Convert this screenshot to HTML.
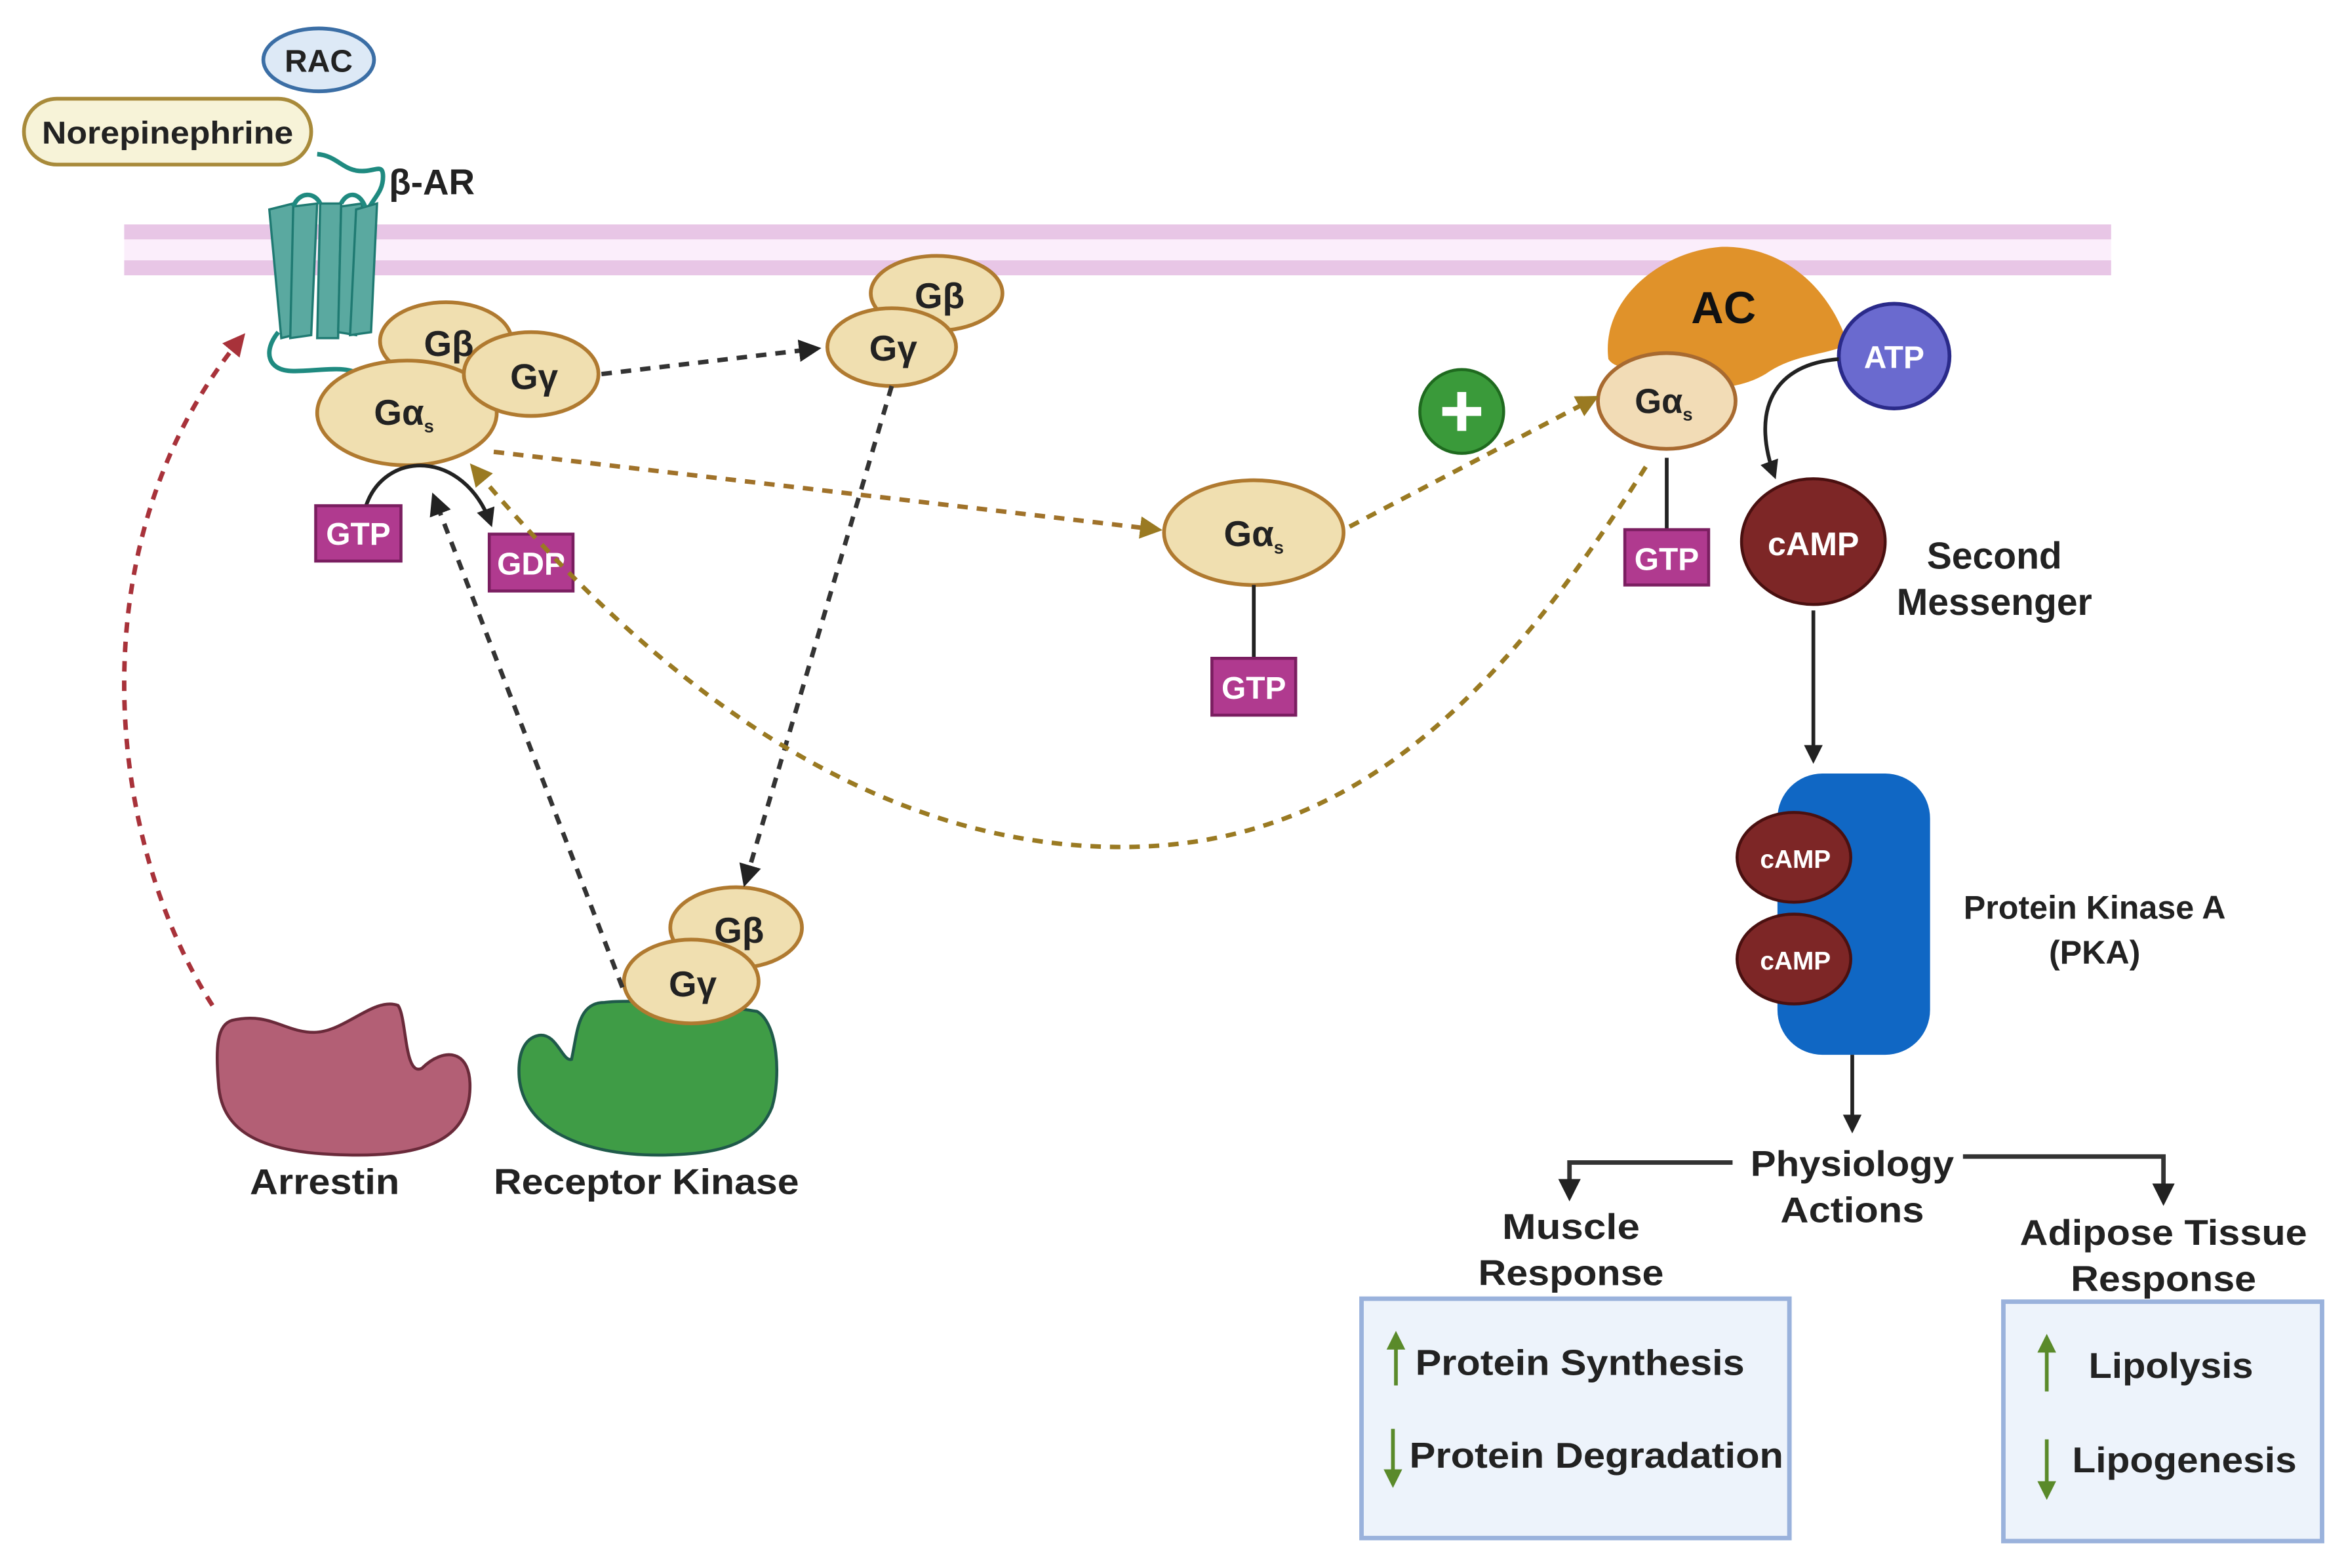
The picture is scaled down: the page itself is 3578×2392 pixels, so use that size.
<!DOCTYPE html>
<html><head><meta charset="utf-8"><style>html,body{margin:0;padding:0;background:#fff}svg{display:block}text{font-family:"Liberation Sans",sans-serif;font-weight:bold}</style></head>
<body>
<svg width="3578" height="2392" viewBox="0 0 1568 1048" preserveAspectRatio="none" xmlns="http://www.w3.org/2000/svg">
<defs>
<marker id="ab" viewBox="0 0 10 10" refX="8" refY="5" markerWidth="5" markerHeight="5" orient="auto"><path d="M0,0L10,5L0,10z" fill="#222"/></marker>
<marker id="ag" viewBox="0 0 10 10" refX="8" refY="5" markerWidth="5" markerHeight="5" orient="auto"><path d="M0,0L10,5L0,10z" fill="#9a7a22"/></marker>
<marker id="ar" viewBox="0 0 10 10" refX="8" refY="5" markerWidth="5" markerHeight="5" orient="auto"><path d="M0,0L10,5L0,10z" fill="#a8323a"/></marker>
<marker id="an" viewBox="0 0 10 10" refX="8" refY="5" markerWidth="5" markerHeight="5" orient="auto"><path d="M0,0L10,5L0,10z" fill="#5a8a2a"/></marker>
</defs>
<rect width="1568" height="1048" fill="#fff"/>
<rect x="83" y="150" width="1328" height="34" fill="#fbeefb"/>
<rect x="83" y="150" width="1328" height="10" fill="#e8c6e6"/>
<rect x="83" y="174" width="1328" height="10" fill="#e8c6e6"/>
<ellipse cx="213" cy="40" rx="37" ry="21" fill="#dde9f6" stroke="#3b6ea5" stroke-width="2.5"/>
<text x="213" y="48" font-size="21" text-anchor="middle" fill="#222">RAC</text>
<rect x="16" y="66" width="192" height="44" rx="22" fill="#f7f3d8" stroke="#a88a3a" stroke-width="2.5"/>
<text x="112" y="96" font-size="21" text-anchor="middle" fill="#222" textLength="168" lengthAdjust="spacingAndGlyphs">Norepinephrine</text>
<text x="260" y="130" font-size="24" fill="#222">β-AR</text>
<path d="M212,103 C224,104 228,112 238,114 C250,116 256,108 256,118 C256,128 250,132 246,140" fill="none" stroke="#1f8a80" stroke-width="3"/>
<path d="M186,222 C176,234 178,248 196,248 C214,248 230,244 240,250" fill="none" stroke="#1f8a80" stroke-width="3"/>
<g fill="#5aa9a0" stroke="#1f7a72" stroke-width="1.5">
<path d="M180,140 L196,136 L204,222 L188,226 Z"/>
<path d="M196,138 L212,136 L208,224 L194,226 Z"/>
<path d="M214,136 L228,136 L226,226 L212,226 Z"/>
<path d="M228,138 L242,136 L238,224 L226,222 Z"/>
<path d="M238,140 L252,136 L248,222 L234,224 Z"/>
</g>
<path d="M196,138 C200,128 210,128 214,136 M228,136 C232,128 240,128 244,138" fill="none" stroke="#1f8a80" stroke-width="3"/>
<g fill="#f0dfb0" stroke="#b07a30" stroke-width="2.5">
<ellipse cx="298" cy="228" rx="44" ry="26"/>
<ellipse cx="272" cy="276" rx="60" ry="35"/>
<ellipse cx="355" cy="250" rx="45" ry="28"/>
</g>
<text x="300" y="238" font-size="24" text-anchor="middle" fill="#222">Gβ</text>
<text x="357" y="260" font-size="24" text-anchor="middle" fill="#222">Gγ</text>
<text x="270" y="284" font-size="24" text-anchor="middle" fill="#222">Gα<tspan font-size="12" dy="5">s</tspan></text>
<path d="M244,340 C256,300 310,300 328,350" fill="none" stroke="#222" stroke-width="2.5" marker-end="url(#ab)"/>
<rect x="211" y="338" width="57" height="37" fill="#b03a8f" stroke="#7a1e60" stroke-width="2"/>
<text x="239.5" y="364" font-size="21" text-anchor="middle" fill="#fff">GTP</text>
<rect x="327" y="357" width="56" height="38" fill="#b03a8f" stroke="#7a1e60" stroke-width="2"/>
<text x="355" y="384" font-size="21" text-anchor="middle" fill="#fff">GDP</text>
<g fill="#f0dfb0" stroke="#b07a30" stroke-width="2.5">
<ellipse cx="626" cy="196" rx="44" ry="25"/>
<ellipse cx="596" cy="232" rx="43" ry="26"/>
</g>
<text x="628" y="206" font-size="24" text-anchor="middle" fill="#222">Gβ</text>
<text x="597" y="241" font-size="24" text-anchor="middle" fill="#222">Gγ</text>
<ellipse cx="838" cy="356" rx="60" ry="35" fill="#f0dfb0" stroke="#b07a30" stroke-width="2.5"/>
<text x="838" y="365" font-size="24" text-anchor="middle" fill="#222">Gα<tspan font-size="12" dy="5">s</tspan></text>
<line x1="838" y1="391" x2="838" y2="440" stroke="#222" stroke-width="2.5"/>
<rect x="810" y="440" width="56" height="38" fill="#b03a8f" stroke="#7a1e60" stroke-width="2"/>
<text x="838" y="467" font-size="21" text-anchor="middle" fill="#fff">GTP</text>
<circle cx="977" cy="275" r="28" fill="#3a9a3a" stroke="#1f6a1f" stroke-width="2"/>
<path d="M964,275 H990 M977,262 V288" stroke="#fff" stroke-width="6"/>
<path d="M1075,240 C1070,200 1110,168 1150,165 C1190,164 1222,190 1235,230 C1220,238 1200,236 1180,250 C1160,262 1130,262 1110,252 C1095,245 1080,248 1075,240 Z" fill="#e0922a"/>
<text x="1152" y="216" font-size="30" text-anchor="middle" fill="#111">AC</text>
<ellipse cx="1114" cy="268" rx="46" ry="32" fill="#f2dcb6" stroke="#a86a30" stroke-width="2.5"/>
<text x="1112" y="276" font-size="23" text-anchor="middle" fill="#222">Gα<tspan font-size="12" dy="5">s</tspan></text>
<line x1="1114" y1="306" x2="1114" y2="354" stroke="#222" stroke-width="2.5"/>
<rect x="1086" y="354" width="56" height="37" fill="#b03a8f" stroke="#7a1e60" stroke-width="2"/>
<text x="1114" y="381" font-size="21" text-anchor="middle" fill="#fff">GTP</text>
<ellipse cx="1266" cy="238" rx="37" ry="35" fill="#6a6acf" stroke="#2a2a8a" stroke-width="2.5"/>
<text x="1266" y="246" font-size="21" text-anchor="middle" fill="#fff">ATP</text>
<path d="M1229,240 C1180,244 1172,280 1186,318" fill="none" stroke="#222" stroke-width="2.5" marker-end="url(#ab)"/>
<ellipse cx="1212" cy="362" rx="48" ry="42" fill="#7d2626" stroke="#4a1010" stroke-width="2"/>
<text x="1212" y="371" font-size="22" text-anchor="middle" fill="#fff">cAMP</text>
<text x="1333" y="380" font-size="25" text-anchor="middle" fill="#222">Second</text>
<text x="1333" y="411" font-size="25" text-anchor="middle" fill="#222">Messenger</text>
<line x1="1212" y1="408" x2="1212" y2="508" stroke="#222" stroke-width="2.5" marker-end="url(#ab)"/>
<rect x="1188" y="517" width="102" height="188" rx="30" fill="#1067c4"/>
<g fill="#7d2626" stroke="#4a1010" stroke-width="2">
<ellipse cx="1199" cy="573" rx="38" ry="30"/>
<ellipse cx="1199" cy="641" rx="38" ry="30"/>
</g>
<text x="1200" y="580" font-size="17" text-anchor="middle" fill="#fff">cAMP</text>
<text x="1200" y="648" font-size="17" text-anchor="middle" fill="#fff">cAMP</text>
<text x="1400" y="614" font-size="22" text-anchor="middle" fill="#222">Protein Kinase A</text>
<text x="1400" y="644" font-size="22" text-anchor="middle" fill="#222">(PKA)</text>
<line x1="1238" y1="705" x2="1238" y2="755" stroke="#222" stroke-width="2.5" marker-end="url(#ab)"/>
<text x="1238" y="786" font-size="24" text-anchor="middle" fill="#222" textLength="136" lengthAdjust="spacingAndGlyphs">Physiology</text>
<text x="1238" y="817" font-size="24" text-anchor="middle" fill="#222" textLength="96" lengthAdjust="spacingAndGlyphs">Actions</text>
<polyline points="1158,777 1049,777 1049,800" fill="none" stroke="#333" stroke-width="3" marker-end="url(#ab)"/>
<polyline points="1312,773 1446,773 1446,803" fill="none" stroke="#333" stroke-width="3" marker-end="url(#ab)"/>
<text x="1050" y="828" font-size="24" text-anchor="middle" fill="#222" textLength="92" lengthAdjust="spacingAndGlyphs">Muscle</text>
<text x="1050" y="859" font-size="24" text-anchor="middle" fill="#222" textLength="124" lengthAdjust="spacingAndGlyphs">Response</text>
<text x="1446" y="832" font-size="24" text-anchor="middle" fill="#222" textLength="192" lengthAdjust="spacingAndGlyphs">Adipose Tissue</text>
<text x="1446" y="863" font-size="24" text-anchor="middle" fill="#222" textLength="124" lengthAdjust="spacingAndGlyphs">Response</text>
<rect x="910" y="868" width="286" height="160" fill="#edf3fb" stroke="#9ab2dc" stroke-width="3"/>
<rect x="1339" y="870" width="213" height="160" fill="#edf3fb" stroke="#9ab2dc" stroke-width="3"/>
<line x1="933" y1="926" x2="933" y2="892" stroke="#5a8a2a" stroke-width="2.5" marker-end="url(#an)"/>
<line x1="931" y1="955" x2="931" y2="992" stroke="#5a8a2a" stroke-width="2.5" marker-end="url(#an)"/>
<text x="946" y="919" font-size="24" fill="#222" textLength="220" lengthAdjust="spacingAndGlyphs">Protein Synthesis</text>
<text x="942" y="981" font-size="24" fill="#222" textLength="250" lengthAdjust="spacingAndGlyphs">Protein Degradation</text>
<line x1="1368" y1="930" x2="1368" y2="894" stroke="#5a8a2a" stroke-width="2.5" marker-end="url(#an)"/>
<line x1="1368" y1="962" x2="1368" y2="1000" stroke="#5a8a2a" stroke-width="2.5" marker-end="url(#an)"/>
<text x="1396" y="921" font-size="24" fill="#222" textLength="110" lengthAdjust="spacingAndGlyphs">Lipolysis</text>
<text x="1385" y="984" font-size="24" fill="#222" textLength="150" lengthAdjust="spacingAndGlyphs">Lipogenesis</text>
<path d="M155,682 C180,676 190,690 210,690 C230,690 250,666 266,672 C272,680 270,720 282,714 C296,700 316,700 314,730 C312,758 290,772 240,772 C180,772 148,760 146,724 C144,700 145,685 155,682 Z" fill="#b35f75" stroke="#6a2a3a" stroke-width="2"/>
<path d="M360,692 C372,690 376,710 382,708 C386,690 386,670 404,670 C420,668 470,670 506,676 C520,684 522,720 516,740 C506,765 480,772 440,772 C390,772 350,755 347,720 C346,705 350,694 360,692 Z" fill="#3f9c46" stroke="#1f5a4a" stroke-width="2"/>
<g fill="#f0dfb0" stroke="#b07a30" stroke-width="2.5">
<ellipse cx="492" cy="620" rx="44" ry="27"/>
<ellipse cx="462" cy="656" rx="45" ry="28"/>
</g>
<text x="494" y="630" font-size="24" text-anchor="middle" fill="#222">Gβ</text>
<text x="463" y="666" font-size="24" text-anchor="middle" fill="#222">Gγ</text>
<text x="217" y="798" font-size="24" text-anchor="middle" fill="#222" textLength="100" lengthAdjust="spacingAndGlyphs">Arrestin</text>
<text x="432" y="798" font-size="24" text-anchor="middle" fill="#222" textLength="204" lengthAdjust="spacingAndGlyphs">Receptor Kinase</text>
<g fill="none" stroke-width="3" stroke-dasharray="7,6">
<line x1="402" y1="250" x2="546" y2="233" stroke="#333" marker-end="url(#ab)"/>
<line x1="596" y1="258" x2="498" y2="590" stroke="#333" marker-end="url(#ab)"/>
<line x1="416" y1="660" x2="290" y2="332" stroke="#333" marker-end="url(#ab)"/>
<line x1="330" y1="302" x2="774" y2="354" stroke="#a0722a" marker-end="url(#ag)"/>
<line x1="902" y1="352" x2="1066" y2="266" stroke="#9a7a22" marker-end="url(#ag)"/>
<path d="M1100,312 C1000,470 900,570 740,566 C580,562 440,460 316,312" stroke="#9a7a22" marker-end="url(#ag)"/>
<path d="M142,672 C70,560 50,360 162,225" stroke="#a8323a" marker-end="url(#ar)"/>
</g>
</svg>
</body></html>
